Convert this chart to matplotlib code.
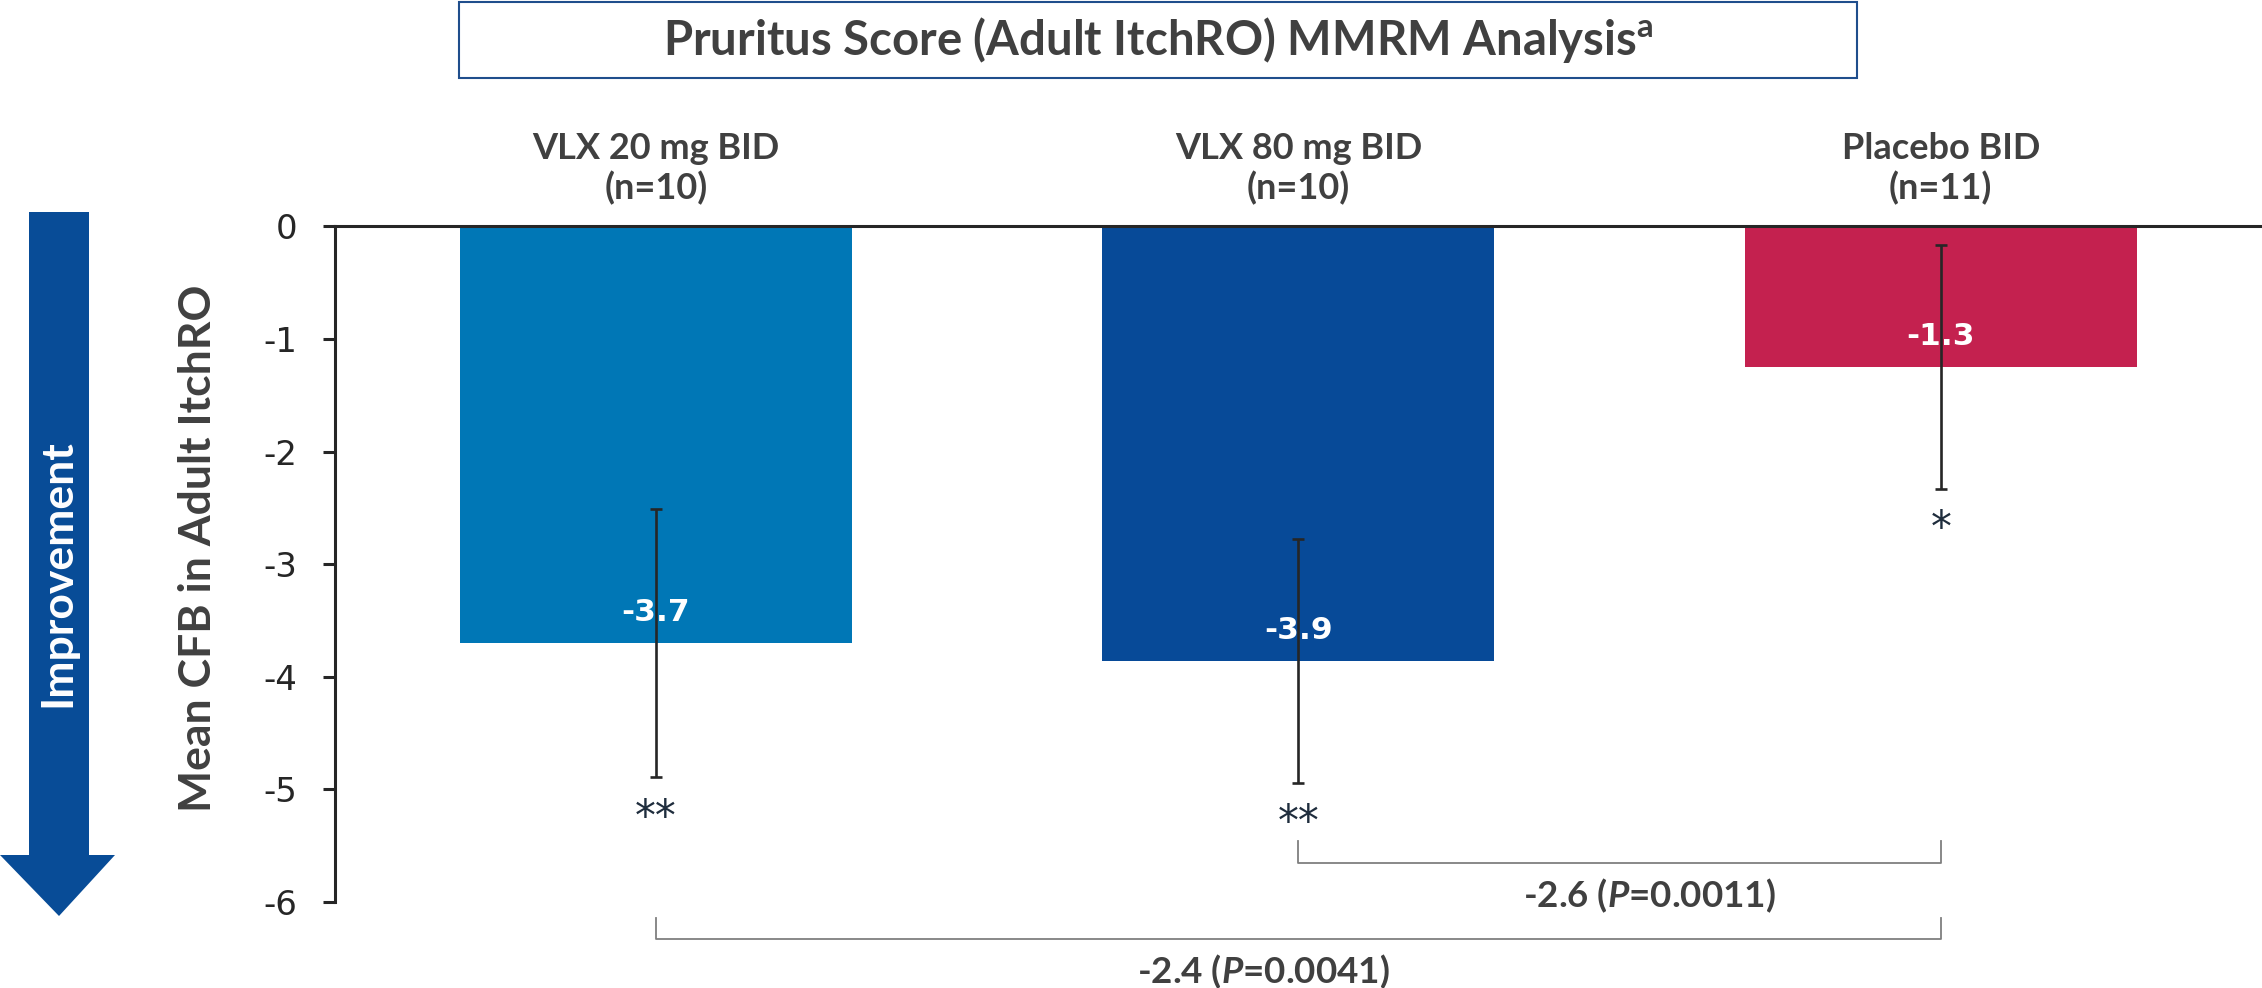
import numpy as np
import matplotlib
matplotlib.use("Agg")
import matplotlib.pyplot as plt
from matplotlib.patches import Polygon, Rectangle

# Chart data
groups = ["VLX 20 mg BID", "VLX 80 mg BID", "Placebo BID"]
n_counts = [10, 10, 11]
means = [-3.70, -3.86, -1.25]
value_labels = ["-3.7", "-3.9", "-1.3"]
err = [1.19, 1.08, 1.08]
stars = ["**", "**", "*"]
colors = ["#0077B6", "#074A98", "#C4214F"]

# pairwise comparisons: (from, to, text)
comparisons = [(1, 2, "-2.6 ($\\mathit{P}$=0.0011)"),
               (0, 2, "-2.4 ($\\mathit{P}$=0.0041)")]

plt.rcParams['axes.unicode_minus'] = False
plt.rcParams['mathtext.fontset'] = 'custom'
plt.rcParams['mathtext.rm'] = 'Lato:bold'
plt.rcParams['mathtext.it'] = 'Lato:bold:italic'
plt.rcParams['mathtext.bf'] = 'Lato:bold'

grey = "#404040"
dark = "#262626"

fig = plt.figure(figsize=(22.62, 9.88), dpi=100)
ax = fig.add_axes([0.148, 0.087, 0.852, 0.684])

x = np.arange(len(groups))
ax.bar(x, means, width=0.61, color=colors, zorder=2)
ax.errorbar(x, means, yerr=err, fmt='none', ecolor=dark, elinewidth=1.9,
            capsize=4.5, capthick=1.9, zorder=3)

ax.set_xlim(-0.5, 2.5)
ax.set_ylim(-6, 0)
ax.set_yticks(np.arange(-6, 1, 1))
ax.set_xticks([])
ax.spines['right'].set_visible(False)
ax.spines['bottom'].set_visible(False)
ax.spines['top'].set_color(dark)
ax.spines['left'].set_color(dark)
ax.spines['top'].set_linewidth(2.2)
ax.spines['left'].set_linewidth(2.2)
ax.tick_params(axis='y', length=9, width=2.2, color=dark, pad=18,
               labelsize=24.5, labelcolor=dark)

# value labels inside bars
for i, m in enumerate(means):
    ax.text(x[i], m + 0.27, value_labels[i], ha='center', va='center',
            color='white', fontsize=22.5, fontweight='bold', zorder=4)

# significance stars under the error bars
for i, m in enumerate(means):
    ax.text(x[i], m - err[i] - 0.36, stars[i], ha='center', va='center',
            color="#1F2D3D", fontsize=30, zorder=4, clip_on=False)

# group labels above the bars
for i, g in enumerate(groups):
    ax.annotate(f"{g}\n(n={n_counts[i]})", xy=(x[i], 0), xytext=(0, 15),
                textcoords='offset points', ha='center', va='bottom',
                fontsize=26, fontweight='bold', family='Lato', color=grey,
                linespacing=1.2, annotation_clip=False)

# comparison brackets
bracket_y = [-5.65, -6.33]
text_dx = [0.047, -0.054]
for k, (a, b, label) in enumerate(comparisons):
    yb = bracket_y[k]
    ax.plot([x[a], x[a], x[b], x[b]], [yb + 0.19, yb, yb, yb + 0.19],
            color="#7F7F7F", lw=1.3, clip_on=False)
    ax.text((x[a] + x[b]) / 2 + text_dx[k], yb - 0.29, label, ha='center',
            va='center', fontsize=26.5, fontweight='bold', family='Lato',
            color=grey, clip_on=False)

# y label
fig.text(0.0875, 0.445, "Mean CFB in Adult ItchRO", rotation=90, ha='center',
         va='center', fontsize=32, fontweight='bold', family='Lato', color=grey)

# improvement arrow
W, H = 2262.0, 988.0
pts = [(29, 212), (89, 212), (89, 855), (115, 855), (59, 916), (0, 855), (29, 855)]
arrow = Polygon([(px / W, 1 - py / H) for px, py in pts], closed=True,
                transform=fig.transFigure, facecolor="#084C97", edgecolor='none')
fig.patches.append(arrow)
fig.text(57 / W, 1 - 573 / H, "Improvement", rotation=90, ha='center', va='center',
         fontsize=32, fontweight='bold', family='Lato', color='white')

# title box
box = Rectangle((459 / W, 1 - 78 / H), (1857 - 459) / W, 76 / H,
                transform=fig.transFigure, facecolor='white',
                edgecolor="#1F4E8C", lw=1.5)
fig.patches.append(box)
fig.text(1158 / W, 1 - 40 / H, "Pruritus Score (Adult ItchRO) MMRM Analysis$^{\\mathrm{a}}$",
         ha='center', va='center', fontsize=34, fontweight='bold', family='Lato',
         color=grey)

fig.savefig("out.png", dpi=100)
